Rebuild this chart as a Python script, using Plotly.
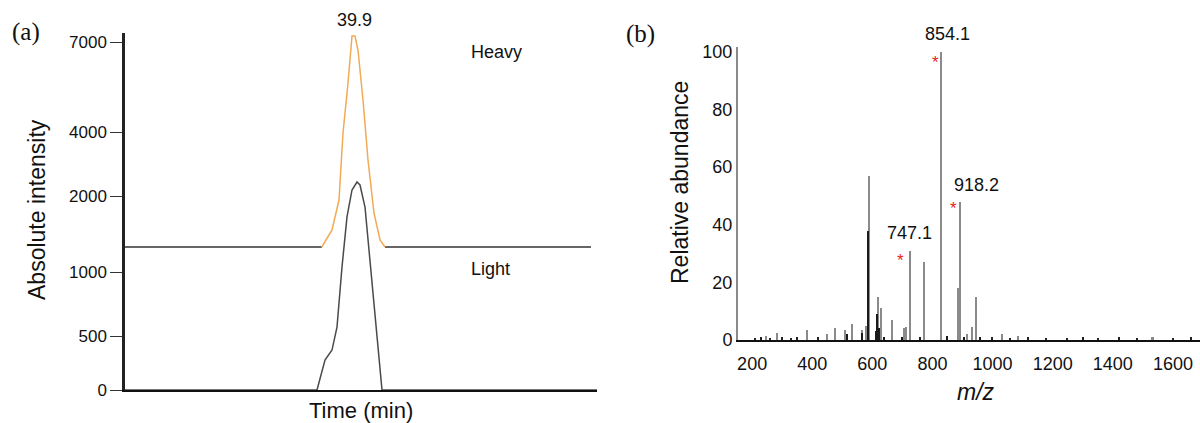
import numpy as np
import plotly.graph_objects as go

# ---------------- (a) extracted-ion chromatograms ----------------
time_heavy = [28.45, 38.29, 38.80, 39.15, 39.35, 39.60, 39.80, 39.95, 40.10, 40.35, 40.60, 40.90, 41.20, 41.45, 51.75]
int_heavy = [1329, 1329, 1553, 1947, 3969, 5633, 7200, 7200, 6733, 5067, 3125, 1776, 1421, 1329, 1329]

time_light = [28.45, 38.05, 38.45, 38.80, 39.05, 39.30, 39.55, 39.80, 40.05, 40.20, 40.45, 40.70, 40.95, 41.15, 41.30, 52.05]
int_light = [0, 0, 278, 370, 570, 1066, 1724, 2188, 2438, 2344, 1855, 1158, 648, 278, 0, 0]

intensity_ticks = [0, 500, 1000, 2000, 4000, 7000]
intensity_tick_labels = ["0", "500", "1000", "2000", "4000", "7000"]
peak_time_label = "39.9"

# ---------------- (b) mass spectrum ----------------
mz_gray = [247, 283, 383, 449, 476, 509, 533, 566, 579, 589, 619, 629, 666, 705, 712, 725, 772, 829, 885, 893, 915, 932, 945, 1031, 1085, 1533]
ab_gray = [1.5, 2.5, 3.5, 2, 4, 3.5, 5.5, 3.5, 5, 57, 15, 11, 7, 4, 4.5, 31, 27, 100, 18, 48, 2, 4.5, 15, 2, 1.5, 1.2]

mz_black = [516, 566, 586, 612, 616, 622, 640, 700, 760, 850, 905, 960]
ab_black = [2, 2.5, 38, 3, 9, 4, 1.2, 1.0, 1.0, 1.5, 1.2, 1.0]

noise_mz = [210, 230, 260, 300, 330, 350, 420, 1000, 1060, 1120, 1180, 1250, 1300, 1350, 1420, 1480, 1600, 1660]
noise_ab = [0.8, 1.0, 0.8, 0.9, 0.8, 1.0, 0.9, 1.0, 0.8, 0.9, 0.8, 0.8, 0.9, 0.8, 0.9, 0.8, 0.8, 0.9]

labeled_peaks_mz = [725, 829, 893]
labeled_peaks_ab = [31, 100, 48]
labeled_peaks_text = ["747.1", "854.1", "918.2"]

mz_ticks = [200, 400, 600, 800, 1000, 1200, 1400, 1600]
ab_ticks = [0, 20, 40, 60, 80, 100]

# ---------------- styling / layout ----------------
W, H = 1200, 423
FONT = "Liberation Sans, Arial, sans-serif"

# display mapping for the broken intensity axis of panel (a)
knot_vals = [0, 500, 1000, 2000, 4000, 7000, 8000]
knot_disp = [0, 54, 118, 194, 258, 348, 378]


def disp(v):
    return np.interp(v, knot_vals, knot_disp)


fig = go.Figure()
line_kw = dict(xaxis="x", yaxis="y", showlegend=False, hoverinfo="skip", mode="lines")

# Light trace
fig.add_trace(go.Scatter(x=time_light, y=disp(int_light), line=dict(color="#4a4a4a", width=1.5), **line_kw))
# Heavy: dark baselines + orange peak
fig.add_trace(go.Scatter(x=time_heavy[:2], y=disp(int_heavy[:2]), line=dict(color="#333333", width=1.5), **line_kw))
fig.add_trace(go.Scatter(x=time_heavy[13:], y=disp(int_heavy[13:]), line=dict(color="#333333", width=1.5), **line_kw))
fig.add_trace(go.Scatter(x=time_heavy[1:14], y=disp(int_heavy[1:14]), line=dict(color="#f2aa55", width=1.5), **line_kw))

# Spectrum bars
bar_kw = dict(xaxis="x2", yaxis="y2", showlegend=False, hoverinfo="skip")
fig.add_trace(go.Bar(x=noise_mz, y=noise_ab, width=5, marker=dict(color="#222222", line=dict(width=0)), **bar_kw))
fig.add_trace(go.Bar(x=mz_gray, y=ab_gray, width=6, marker=dict(color="#8a8a8a", line=dict(width=0)), **bar_kw))
fig.add_trace(go.Bar(x=mz_black, y=ab_black, width=4, marker=dict(color="#1a1a1a", line=dict(width=0)), **bar_kw))


def px_x(p):
    return p / W


def px_y(p):
    return 1 - p / H


annotations = []
txt = dict(family=FONT, color="#111111")
C = dict(xanchor="center", yanchor="middle", showarrow=False)
SERIF = "Liberation Serif, Times New Roman, serif"

# panel letters
annotations.append(dict(text="(a)", x=px_x(26), y=px_y(32), xref="paper", yref="paper",
                        font=dict(family=SERIF, size=25, color="#111"), **C))
annotations.append(dict(text="(b)", x=px_x(640), y=px_y(34), xref="paper", yref="paper",
                        font=dict(family=SERIF, size=25, color="#111"), **C))

# panel (a) texts
annotations.append(dict(text="Absolute intensity", x=px_x(37), y=px_y(210), xref="paper", yref="paper",
                        textangle=-90, font=dict(size=23, **txt), **C))
annotations.append(dict(text="Time (min)", x=px_x(361), y=px_y(410), xref="paper", yref="paper",
                        font=dict(size=22, **txt), **C))
annotations.append(dict(text=peak_time_label, x=39.9, y=disp(7200), xref="x", yref="y", yshift=16,
                        font=dict(size=18, **txt), **C))
annotations.append(dict(text="Heavy", x=px_x(496), y=px_y(52), xref="paper", yref="paper",
                        font=dict(size=18, **txt), **C))
annotations.append(dict(text="Light", x=px_x(490), y=px_y(269), xref="paper", yref="paper",
                        font=dict(size=18, **txt), **C))

# panel (b) texts
annotations.append(dict(text="Relative abundance", x=px_x(680), y=px_y(183), xref="paper", yref="paper",
                        textangle=-90, font=dict(size=23, **txt), **C))
annotations.append(dict(text="<i>m/z</i>", x=px_x(976), y=px_y(392), xref="paper", yref="paper",
                        font=dict(size=23, **txt), **C))
label_shift = {"747.1": (0, 18), "854.1": (6, 18), "918.2": (16, 17)}
star_shift = {"747.1": (-9, -10), "854.1": (-6, -11), "918.2": (-7, -7)}
for mz, ab, t in zip(labeled_peaks_mz, labeled_peaks_ab, labeled_peaks_text):
    dx, dy = label_shift[t]
    annotations.append(dict(text=t, x=mz, y=ab, xref="x2", yref="y2", xshift=dx, yshift=dy,
                            font=dict(size=18, **txt), **C))
    sx, sy = star_shift[t]
    annotations.append(dict(text="*", x=mz, y=ab, xref="x2", yref="y2", xshift=sx, yshift=sy,
                            font=dict(size=17, family=FONT, color="#e8221c"), **C))

fig.update_layout(
    width=W, height=H,
    margin=dict(l=0, r=0, t=0, b=0, pad=0),
    paper_bgcolor="white", plot_bgcolor="white",
    bargap=0, barmode="overlay",
    font=dict(family=FONT, color="#111"),
    annotations=annotations,
    xaxis=dict(domain=[px_x(125), px_x(597)], range=[28.45, 52.05], showgrid=False, zeroline=False,
               showline=True, linecolor="#111", linewidth=2, showticklabels=False, ticks="",
               automargin=False),
    yaxis=dict(domain=[px_y(390), px_y(33)], range=[0, 357], showgrid=False, zeroline=False,
               showline=True, linecolor="#222", linewidth=2.5,
               tickvals=list(disp(intensity_ticks)), ticktext=intensity_tick_labels,
               ticks="outside", ticklen=12, tickwidth=1.2, tickcolor="#333",
               tickfont=dict(size=17, family=FONT, color="#111"), automargin=False),
    xaxis2=dict(domain=[px_x(738), 1.0], range=[153, 1690], showgrid=False, zeroline=False,
                showline=True, linecolor="#111", linewidth=2, anchor="y2",
                tickvals=mz_ticks, ticks="outside", ticklen=6, tickcolor="rgba(0,0,0,0)",
                tickfont=dict(size=18, family=FONT, color="#111"), automargin=False),
    yaxis2=dict(domain=[px_y(340), px_y(47)], range=[0, 101.7], showgrid=False, zeroline=False,
                showline=True, linecolor="#8a8a8a", linewidth=2, anchor="x2",
                tickvals=ab_ticks, ticks="", tickfont=dict(size=18, family=FONT, color="#111"),
                automargin=False),
)

fig.write_html("out.html", config={"displayModeBar": False},
               post_script="document.body.style.margin='0';document.body.style.overflow='hidden';")
